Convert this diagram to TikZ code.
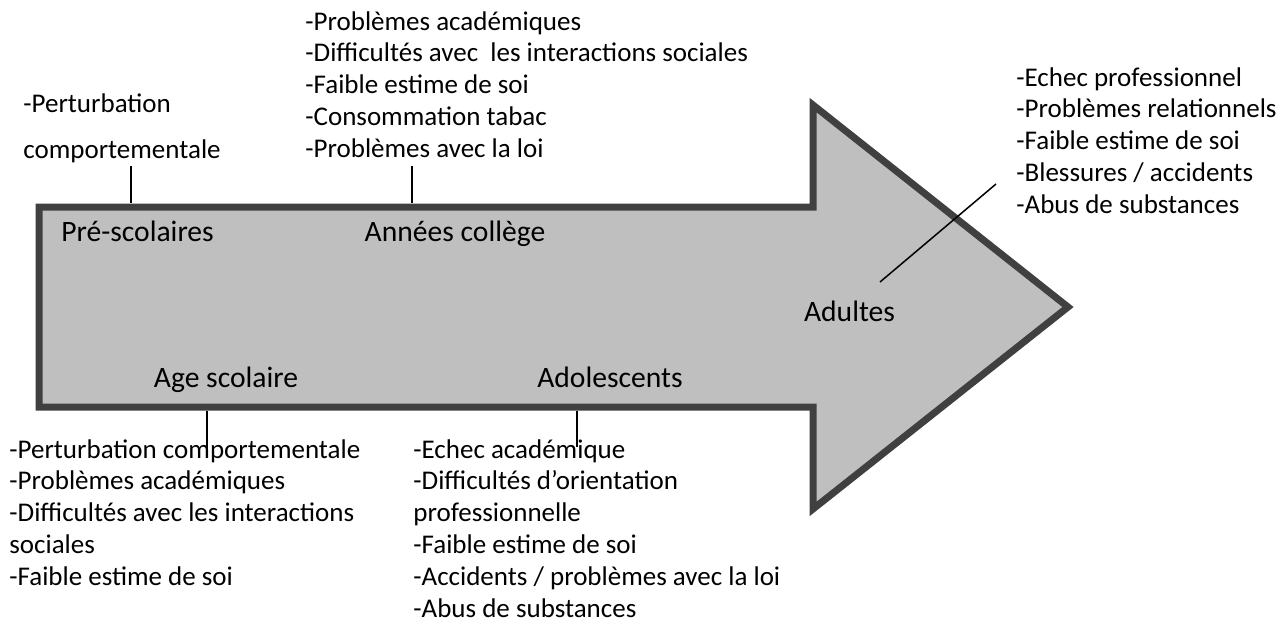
\documentclass[tikz,border=0pt]{standalone}
\usepackage{fontspec}
\setmainfont{Carlito}
\definecolor{arrowline}{HTML}{404040}
\definecolor{arrowfill}{HTML}{BFBFBF}
\tikzset{
  listtext/.style={anchor=north west, align=left, inner sep=0pt,
    font=\fontsize{13.5}{15.9}\selectfont},
  stagetext/.style={anchor=base, inner sep=0pt, font=\fontsize{14.8}{16}\selectfont},
  tick/.style={black, line width=0.75pt}
}
\begin{document}
\begin{tikzpicture}[x=0.5pt,y=-0.5pt]
\useasboundingbox (0,0) rectangle (1287,623);

\node[coordinate] (a1) at (39,207) {};
\node[coordinate] (a2) at (813,207) {};
\node[coordinate] (a3) at (813,105) {};
\node[coordinate] (a4) at (1068,307) {};
\node[coordinate] (a5) at (813,509) {};
\node[coordinate] (a6) at (813,407) {};
\node[coordinate] (a7) at (39,407) {};

\draw [arrowline, fill=arrowfill, line width=3.5pt, line join=miter]
  (a1)--(a2)--(a3)--(a4)--(a5)--(a6)--(a7)--cycle;

% stages
\node[stagetext] (pre) at (137.5,241) {Pré-scolaires};
\node[stagetext] (col) at (455,241) {Années collège};
\node[stagetext] (age) at (226,387) {Age scolaire};
\node[stagetext] (ado) at (610,387) {Adolescents};
\node[stagetext] (adu) at (849.5,321) {Adultes};

% lists
\node[listtext] (l1) at (23,93) {-Perturbation\\[7.5pt]comportementale};
\node[listtext] (l2) at (305,11) {-Problèmes académiques\\-Difficultés avec\ \ les interactions sociales\\-Faible estime de soi\\-Consommation tabac\\-Problèmes avec la loi};
\node[listtext] (l3) at (1016,67) {-Echec professionnel\\-Problèmes relationnels\\-Faible estime de soi\\-Blessures / accidents\\-Abus de substances};
\node[listtext] (l4) at (9,439) {-Perturbation comportementale\\-Problèmes académiques\\-Difficultés avec les interactions\\sociales\\-Faible estime de soi};
\node[listtext] (l5) at (413,439) {-Echec académique\\-Difficultés d’orientation\\professionnelle\\-Faible estime de soi\\-Accidents / problèmes avec la loi\\-Abus de substances};

% ticks
\node[coordinate] (t1) at (131,166) {};
\node[coordinate] (b1) at (131,203) {};
\node[coordinate] (t2) at (412,166) {};
\node[coordinate] (b2) at (412,203) {};
\node[coordinate] (t3) at (207,411) {};
\node[coordinate] (b3) at (207,452) {};
\node[coordinate] (t4) at (577,411) {};
\node[coordinate] (b4) at (577,447) {};
\node[coordinate] (t5) at (996,184) {};
\node[coordinate] (b5) at (880,282) {};

\draw [tick] (t1)--(b1);
\draw [tick] (t2)--(b2);
\draw [tick] (t3)--(b3);
\draw [tick] (t4)--(b4);
\draw [tick] (t5)--(b5);

\end{tikzpicture}
\end{document}
